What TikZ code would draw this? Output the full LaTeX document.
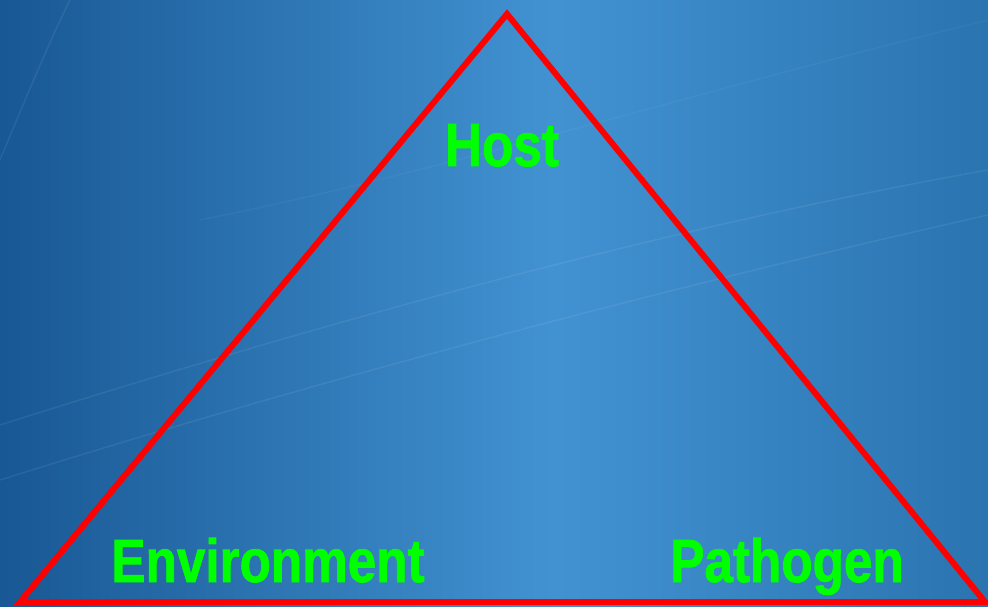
\documentclass[tikz,border=0pt]{standalone}
\usepackage{fontspec}
\setmainfont{Liberation Sans}
\newfontfamily\labfont[FakeStretch=0.84,FakeBold=1.2]{Liberation Sans}
\usetikzlibrary{calc}
\definecolor{bgleft}{RGB}{24,88,148}
\definecolor{bgmid}{RGB}{66,146,210}
\definecolor{bgright}{RGB}{42,116,176}
\definecolor{labgreen}{RGB}{0,255,0}
\pgfdeclarehorizontalshading{bgshade}{100bp}{color(0bp)=(bgleft); color(25bp)=(bgleft); color(53bp)=(bgmid); color(75bp)=(bgright); color(100bp)=(bgright)}
\begin{document}
\begin{tikzpicture}[x=1pt,y=-1pt,
  lab/.style={text=labgreen,font=\labfont\bfseries\fontsize{61}{61}\selectfont,inner sep=0pt,anchor=base},
  edge/.style={draw=red,line width=6pt,line join=miter},
  streak/.style={white,opacity=0.07,line width=1.5pt}]
\useasboundingbox (0,0) rectangle (988,607);
\fill[shading=bgshade] (0,0) rectangle (988,607);
\draw[streak] (0,425) .. controls (300,330) and (650,230) .. (988,170);
\draw[streak] (0,480) .. controls (350,370) and (700,280) .. (988,215);
\draw[streak] (0,160) .. controls (25,100) and (50,40) .. (70,0);
\draw[streak,opacity=0.04] (200,220) .. controls (450,170) and (700,90) .. (988,20);
\coordinate (apex) at (507,14);
\coordinate (bl) at (20,602);
\coordinate (br) at (985,602);
\draw[edge] (apex) -- (br) -- (bl) -- cycle;
\node[lab] (host) at (502,166) {Host};
\node[lab] (env) at (268,582) {Environment};
\node[lab] (path) at (787,582) {Pathogen};
\end{tikzpicture}
\end{document}
